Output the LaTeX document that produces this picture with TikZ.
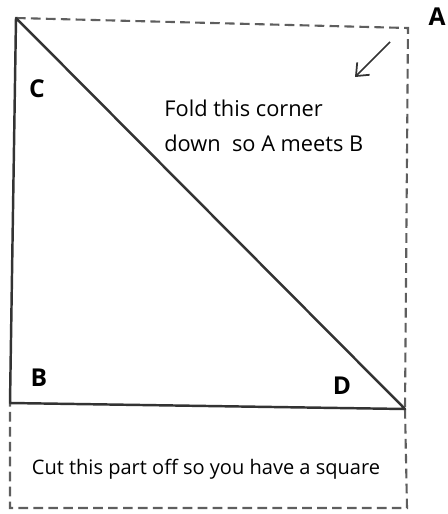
\documentclass[tikz,border=0pt]{standalone}
\usepackage{fontspec}
\setmainfont{Open Sans}
\usetikzlibrary{arrows.meta,positioning}
\definecolor{pencil}{HTML}{333333}
\definecolor{dashgray}{HTML}{5E5E5E}
\begin{document}
\begin{tikzpicture}[x=0.02cm,y=-0.02cm,
  fold/.style={draw=pencil,line width=1.4pt,line join=round},
  cutline/.style={draw=dashgray,line width=1.2pt,dash pattern=on 5.5pt off 3pt},
  letter/.style={font=\fontsize{14}{16}\selectfont\bfseries,inner sep=0pt},
  note/.style={font=\fontsize{12.4}{20}\selectfont,align=left,inner sep=0pt},
  ar/.style={-{Straight Barb[length=6pt,width=10pt]},draw=pencil,line width=1pt}
]
\useasboundingbox (0,0) rectangle (447,514);
% corners of the sheet
\coordinate (c) at (16,18);
\coordinate (b) at (10,403);
\coordinate (d) at (405,409);
\coordinate (a) at (408,28);
\coordinate (e) at (407,508);
\coordinate (f) at (10,508);
% dashed outline of the paper
\draw[cutline] (c) -- (a) -- (d);
\draw[cutline] (d) -- (e) -- (f) -- (b);
% the folded triangle
\draw[fold] (c) -- (b) -- (d) -- cycle;
% fold arrow
\coordinate (arrowtail) at (390,42);
\coordinate (arrowhead) at (355,77);
\draw[ar] (arrowtail) -- (arrowhead);
% labels
\node[letter] (la) at (437,17) {A};
\node[letter] (lc) at (37,89) {C};
\node[letter] (lb) at (39,378) {B};
\node[letter] (ld) at (342,386) {D};
\node[note,anchor=west] (fold) at (164,126) {Fold this corner\\down\ \ so A meets B};
\node[font=\fontsize{11.4}{14}\selectfont,inner sep=0pt] (cut) at (206,469) {Cut this part off so you have a square};
\end{tikzpicture}
\end{document}
